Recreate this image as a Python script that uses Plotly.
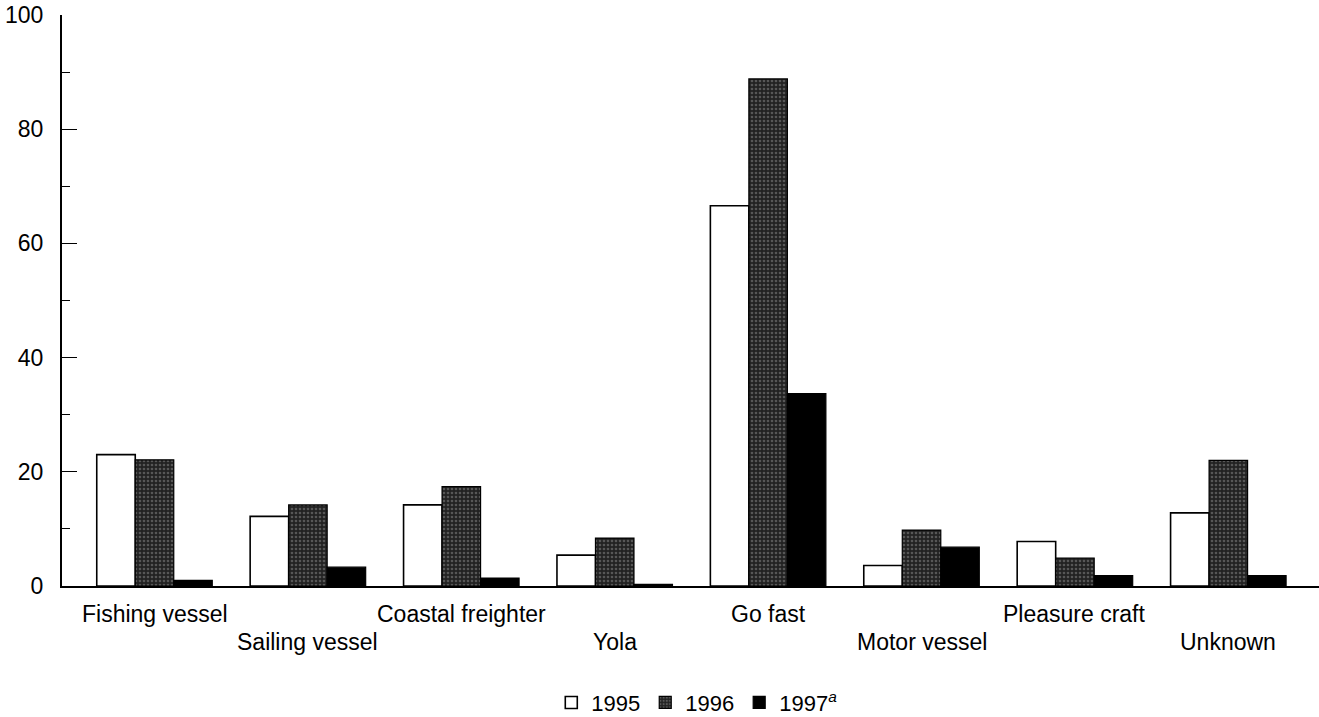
import plotly.graph_objects as go

categories = ["Fishing vessel", "Sailing vessel", "Coastal freighter", "Yola",
              "Go fast", "Motor vessel", "Pleasure craft", "Unknown"]
v1995 = [23.0, 12.2, 14.2, 5.4, 66.6, 3.6, 7.8, 12.8]
v1996 = [22.1, 14.2, 17.4, 8.4, 88.8, 9.8, 4.9, 22.0]
v1997 = [1.0, 3.3, 1.4, 0.3, 33.7, 6.8, 1.8, 1.8]
series_names = ["1995", "1996", "1997<sup><i>a</i></sup>"]
y_ticks = [0, 20, 40, 60, 80, 100]

FONT = "Liberation Sans, Arial, Helvetica, sans-serif"
x_idx = list(range(len(categories)))

fig = go.Figure()
fig.add_trace(go.Bar(
    x=x_idx, y=v1995, name=series_names[0],
    marker=dict(color="white", line=dict(color="black", width=1.6)),
))
fig.add_trace(go.Bar(
    x=x_idx, y=v1996, name=series_names[1],
    marker=dict(color="#333333", line=dict(color="black", width=1.2),
                pattern=dict(shape=".", bgcolor="#222222", fgcolor="#8c8c8c",
                             size=4, solidity=0.35)),
))
fig.add_trace(go.Bar(
    x=x_idx, y=v1997, name=series_names[2],
    marker=dict(color="black", line=dict(color="black", width=1.2)),
))

annotations = []
for i, c in enumerate(categories):
    annotations.append(dict(
        x=i, xref="x", y=-0.049 if i % 2 == 0 else -0.098, yref="paper",
        text=c, showarrow=False, xanchor="center", yanchor="middle",
        font=dict(family=FONT, size=23, color="black"),
    ))

fig.update_layout(
    width=1319, height=717,
    margin=dict(l=62, r=0, t=15, b=131),
    paper_bgcolor="white", plot_bgcolor="white",
    barmode="group", bargap=0.247, bargroupgap=0,
    font=dict(family=FONT, size=22, color="black"),
    showlegend=True,
    legend=dict(orientation="h", x=0.505, xanchor="center",
                y=0.02, yanchor="middle", yref="container",
                font=dict(family=FONT, size=22, color="black"),
                itemwidth=30, tracegroupgap=0),
    annotations=annotations,
    xaxis=dict(range=[-0.603, 7.591], showline=True, linecolor="black",
               linewidth=2, ticks="", showticklabels=False, showgrid=False,
               zeroline=False, tickvals=x_idx),
    yaxis=dict(range=[0, 100], tickvals=y_ticks, showline=True,
               linecolor="black", linewidth=2, ticks="inside", ticklen=15,
               tickwidth=1.2, tickcolor="black", showgrid=False,
               zeroline=False, ticklabelstandoff=12,
               tickfont=dict(family=FONT, size=23, color="black"),
               minor=dict(dtick=10, tick0=0, ticks="inside", ticklen=8,
                          tickwidth=1.2, tickcolor="black", showgrid=False)),
)

fig.write_html(
    "out.html",
    config={"displayModeBar": False},
    post_script="document.body.style.margin='0';document.body.style.overflow='hidden';",
)
